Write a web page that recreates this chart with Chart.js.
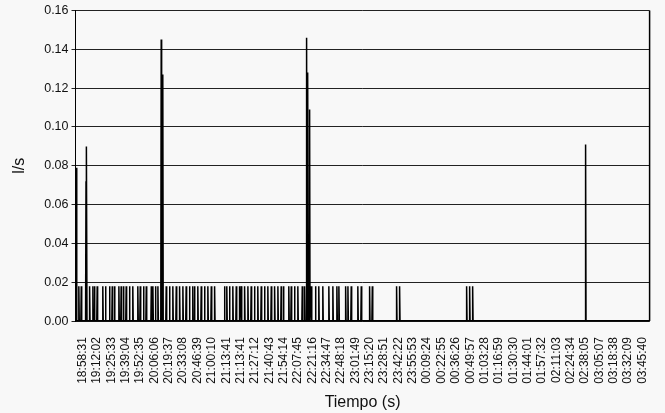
<!DOCTYPE html>
<html>
<head>
<meta charset="utf-8">
<script src="https://cdn.jsdelivr.net/npm/chart.js@4"></script>
<style>
html,body{margin:0;padding:0;background:#f8f8f8;}
#wrap{width:665px;height:413px;}
</style>
</head>
<body>
<div id="wrap"><canvas id="c" width="665" height="413"></canvas></div>
<script>
// Category tick labels (time of day)
const xLabels = ["18:58:31","19:12:02","19:25:33","19:39:04","19:52:35","20:06:06","20:19:37","20:33:08","20:46:39","21:00:10",
"21:13:41","21:13:41","21:27:12","21:40:43","21:54:14","22:07:45","22:21:16","22:34:47","22:48:18","23:01:49",
"23:15:20","23:28:51","23:42:22","23:55:53","00:09:24","00:22:55","00:36:26","00:49:57","01:03:28","01:16:59",
"01:30:30","01:44:01","01:57:32","02:11:03","02:24:34","02:38:05","03:05:07","03:18:38","03:32:09","03:45:40"];

// Flow pulses: position along the category axis (category index units) and flow value (l/s)
const pulsePos = [-0.43,-0.27,-0.10,0.23,0.27,0.48,0.71,0.82,1.01,1.40,1.59,1.87,2.06,2.22,2.52,2.68,2.84,3.03,3.26,3.49,3.84,4.01,4.24,4.43,4.78,4.89,5.07,5.24,5.47,5.58,5.82,6.05,6.28,6.52,6.75,6.98,7.21,7.44,7.67,7.79,8.02,8.26,8.49,8.72,8.96,9.19,
9.88,10.04,10.23,10.46,10.70,10.93,11.05,11.28,11.51,11.74,11.97,12.20,12.44,12.67,12.90,13.14,13.37,13.60,13.83,13.99,14.36,14.53,14.76,14.99,15.30,15.46,15.60,15.69,15.81,15.93,16.22,16.45,16.73,17.15,17.43,17.71,17.85,18.32,18.48,18.71,19.17,19.41,19.99,20.18,
21.87,22.08,26.75,26.96,27.17,35.04];
const pulseVal = [0.079,0.018,0.018,0.072,0.090,0.018,0.018,0.018,0.018,0.018,0.018,0.018,0.018,0.018,0.018,0.018,0.018,0.018,0.018,0.018,0.018,0.018,0.018,0.018,0.018,0.018,0.018,0.018,0.145,0.127,0.018,0.018,0.018,0.018,0.018,0.018,0.018,0.018,0.018,0.018,0.018,0.018,0.018,0.018,0.018,0.018,
0.018,0.018,0.018,0.018,0.018,0.018,0.018,0.018,0.018,0.018,0.018,0.018,0.018,0.018,0.018,0.018,0.018,0.018,0.018,0.018,0.018,0.018,0.018,0.018,0.018,0.018,0.146,0.128,0.109,0.018,0.018,0.018,0.018,0.018,0.018,0.018,0.018,0.018,0.018,0.018,0.018,0.018,0.018,0.018,
0.018,0.018,0.018,0.018,0.018,0.091];

// y tick values
const yMin = 0, yMax = 0.16, yStep = 0.02;

const halfW = 0.03;
const pts = [{x:-0.5,y:0}];
pulsePos.forEach((p,i)=>{
  pts.push({x:p-halfW,y:0});
  pts.push({x:p,y:pulseVal[i]});
  pts.push({x:p+halfW,y:0});
});
pts.push({x:39.5,y:0});
pts.sort((a,b)=>a.x-b.x);

const FONT = "'Liberation Sans', Arial, sans-serif";

const frame = {
  id:'frame',
  beforeDraw(chart){
    const c = chart.ctx;
    c.save(); c.fillStyle='#f8f8f8'; c.fillRect(0,0,chart.width,chart.height); c.restore();
  },
  afterDraw(chart){
    const a = chart.chartArea, c = chart.ctx;
    c.save();
    c.strokeStyle='#000'; c.lineWidth=1.5;
    c.beginPath();
    c.moveTo(a.right, a.top); c.lineTo(a.right, a.bottom);
    c.stroke();
    c.restore();
  }
};

new Chart(document.getElementById('c'), {
  type:'line',
  data:{datasets:[{data:pts,borderColor:'#000',borderWidth:1.5,pointRadius:0,tension:0,fill:false}]},
  options:{
    responsive:false,
    animation:false,
    layout:{padding:{left:10,right:14,top:5,bottom:1}},
    plugins:{legend:{display:false},tooltip:{enabled:false}},
    scales:{
      x:{
        type:'linear', min:-0.5, max:39.5,
        afterBuildTicks: ax => { ax.ticks = xLabels.map((_,i)=>({value:i})); },
        ticks:{autoSkip:false, maxRotation:90, minRotation:90, padding:8, color:'#111',
               font:{family:FONT,size:12}, callback:(v)=>xLabels[v]},
        grid:{display:false},
        border:{display:true,color:'#000',width:1.5},
        title:{display:true,text:'Tiempo (s)',color:'#111',font:{family:FONT,size:16},padding:{top:1,bottom:0}}
      },
      y:{
        min:yMin, max:yMax,
        ticks:{stepSize:yStep, color:'#111', padding:3, font:{family:FONT,size:12.5}, callback:v=>v.toFixed(2)},
        grid:{color:'#222', lineWidth:1, drawTicks:true, tickLength:4},
        border:{display:true,color:'#000',width:1},
        title:{display:true,text:'l/s',color:'#111',font:{family:FONT,size:16},padding:{top:0,bottom:12}}
      }
    }
  },
  plugins:[frame]
});
</script>
</body>
</html>
